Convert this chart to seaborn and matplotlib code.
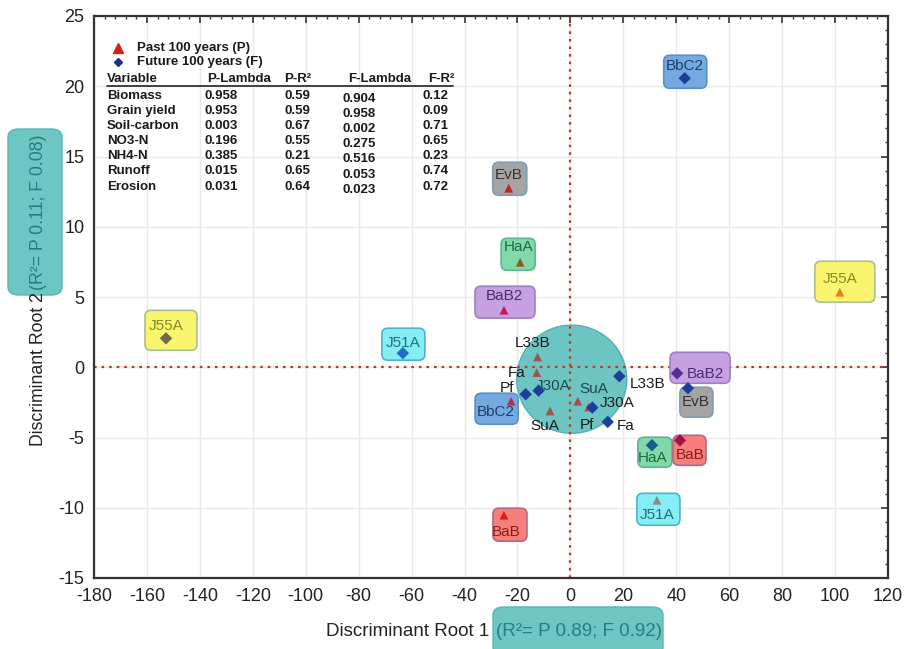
import matplotlib
matplotlib.use("Agg")
import matplotlib.pyplot as plt
import matplotlib.transforms as mtransforms
from matplotlib.patches import FancyBboxPatch, Ellipse
from matplotlib.lines import Line2D
from matplotlib.ticker import MultipleLocator, AutoMinorLocator
import seaborn as sns
import pandas as pd

# ---- discriminant scores: past 100 years (P) ----
sites_p = ["EvB", "HaA", "BaB2", "J55A", "J51A", "BaB", "BbC2", "L33B", "Fa", "SuA", "Pf", "J30A"]
root1_p = [-23.3, -19.0, -25.1, 101.8, 32.7, -25.1, -22.4, -12.4, -12.7, -7.7, 2.8, 6.9]
root2_p = [12.74, 7.47, 4.06, 5.34, -9.47, -10.53, -2.42, 0.73, -0.38, -3.11, -2.42, -2.83]

# ---- discriminant scores: future 100 years (F) ----
sites_f = ["BbC2", "J55A", "J51A", "BaB2", "EvB", "HaA", "BaB", "L33B", "Fa", "Pf", "J30A", "SuA"]
root1_f = [43.2, -152.8, -63.3, 40.3, 44.4, 30.8, 41.4, 18.5, 14.1, -16.9, -12.0, 8.3]
root2_f = [20.57, 2.06, 1.0, -0.43, -1.49, -5.55, -5.2, -0.64, -3.89, -1.92, -1.66, -2.87]

# ---- Wilks' lambda / R2 table ----
variables = ["Biomass", "Grain yield", "Soil-carbon", "NO3-N", "NH4-N", "Runoff", "Erosion"]
p_lambda = ["0.958", "0.953", "0.003", "0.196", "0.385", "0.015", "0.031"]
p_r2 = ["0.59", "0.59", "0.67", "0.55", "0.21", "0.65", "0.64"]
f_lambda = ["0.904", "0.958", "0.002", "0.275", "0.516", "0.053", "0.023"]
f_r2 = ["0.12", "0.09", "0.71", "0.65", "0.23", "0.74", "0.72"]
table_header = ["Variable", "P-Lambda", "P-R\u00b2", "F-Lambda", "F-R\u00b2"]

legend_labels = ["Past 100 years (P)", "Future 100 years (F)"]
xlabel_main, xlabel_r2 = "Discriminant Root 1", "(R\u00b2= P 0.89; F 0.92)"
ylabel_main, ylabel_r2 = "Discriminant Root 2", "(R\u00b2= P 0.11; F 0.08)"

# ---- styling ----
box_fill = {"EvB": "#a4a4a4", "HaA": "#7fd9a9", "BaB2": "#c6a0e0", "J55A": "#f9f56e",
            "J51A": "#84eef4", "BaB": "#f67f7c", "BbC2": "#74aadf"}
box_edge = {"EvB": "#7b9fb0", "HaA": "#5fb39a", "BaB2": "#9a82c6", "J55A": "#a9c090",
            "J51A": "#4fb2cc", "BaB": "#b06a84", "BbC2": "#5a8fc4"}
label_col = {"EvB": "#333333", "HaA": "#1e6b45", "BaB2": "#4e2b74", "J55A": "#8a8a22",
             "J51A": "#1f6f80", "BaB": "#8c1c1c", "BbC2": "#1d3f6e"}

mk_col_p = {"EvB": "#cc1f1f", "HaA": "#8b5a2b", "BaB2": "#c2185b", "J55A": "#ef7d1a",
            "J51A": "#8a8a8a", "BaB": "#e01b1b", "BbC2": "#b5304f"}
mk_col_f = {"BbC2": "#1c3f9c", "J55A": "#6e6a48", "J51A": "#1e6ec8", "BaB2": "#5a2d91",
            "EvB": "#1c3f9c", "HaA": "#1f5a8a", "BaB": "#a3124a"}

# box geometry in pixels relative to the marker: (left, bottom, width, height), label offset
box_p = {"EvB": ((-16, -7, 34, 33), (0, 13)), "HaA": ((-19, -8, 34, 32), (-2, 15)),
         "BaB2": ((-29, -8, 60, 32), (0, 14)), "J55A": ((-25, -10, 60, 41), (0, 13)),
         "J51A": ((-20, -25, 43, 32), (0, -15)), "BaB": ((-11, -26, 34, 33), (2, -17)),
         "BbC2": ((-36, -23, 43, 31), (-15, -11))}
box_f = {"BbC2": ((-21, -10, 43, 33), (0, 12)), "J55A": ((-21, -12, 52, 40), (0, 12)),
         "J51A": ((-21, -7, 43, 32), (0, 10)), "BaB2": ((-7, -10, 60, 31), (28, -1)),
         "EvB": ((-8, -29, 33, 30), (8, -14)), "HaA": ((-14, -22, 34, 30), (1, -13)),
         "BaB": ((-7, -25, 33, 30), (10, -15))}
free_lab_p = {"L33B": (-5, 14), "Fa": (-20, 0), "SuA": (-5, -15), "Pf": (9, -24), "J30A": (28, 4)}
free_lab_f = {"L33B": (28, -8), "Fa": (18, -4), "Pf": (-19, 6), "J30A": (14, 5), "SuA": (1, 19)}
free_lab_col_f = {"J30A": "#1d4a4c", "SuA": "#1d4a4c"}

sns.set_style("white")
plt.rcParams["font.family"] = ["Liberation Sans", "DejaVu Sans"]
plt.rcParams["axes.unicode_minus"] = False

W, H = 912, 649
fig = plt.figure(figsize=(W / 100, H / 100), dpi=100)
ax = fig.add_axes([94 / W, 1 - 578 / H, 794 / W, 562 / H])

df = pd.concat([
    pd.DataFrame({"root1": root1_p, "root2": root2_p, "site": sites_p, "period": "P"}),
    pd.DataFrame({"root1": root1_f, "root2": root2_f, "site": sites_f, "period": "F"}),
], ignore_index=True)
df["key"] = df["period"] + "-" + df["site"]
palette = {}
for s in sites_p:
    palette["P-" + s] = mk_col_p.get(s, "#a0524d")
for s in sites_f:
    palette["F-" + s] = mk_col_f.get(s, "#1c3f9c")

ax.set_xlim(-180, 120)
ax.set_ylim(-15, 25)

# cluster of central sites
ax.add_patch(Ellipse((0.5, -0.85), 41.6, 7.7, facecolor="#6cc4c3", edgecolor="#58aeb3",
                     lw=1, zorder=1))
ax.axhline(0, color="#c0392b", ls=(0, (1.2, 2.2)), lw=1.6, zorder=1.5)
ax.axvline(0, color="#c0392b", ls=(0, (1.2, 2.2)), lw=1.6, zorder=1.5)

def px_trans(x, y):
    return fig.dpi_scale_trans + mtransforms.ScaledTranslation(x, y, ax.transData)

for _, r in df.iterrows():
    geo = (box_p if r.period == "P" else box_f).get(r.site)
    if geo is not None:
        (l, b, w, h), (dx, dy) = geo
        ax.add_patch(FancyBboxPatch((l / 100, b / 100), w / 100, h / 100,
                                    boxstyle="round,pad=0,rounding_size=0.06",
                                    transform=px_trans(r.root1, r.root2),
                                    facecolor=box_fill[r.site], edgecolor=box_edge[r.site],
                                    lw=1.2, zorder=2))
        col = label_col[r.site]
    else:
        dx, dy = (free_lab_p if r.period == "P" else free_lab_f)[r.site]
        col = "#1a1a1a" if r.period == "P" else free_lab_col_f.get(r.site, "#1a1a1a")
    ax.annotate(r.site, (r.root1, r.root2), xytext=(dx * 0.72, dy * 0.72),
                textcoords="offset points", ha="center", va="center",
                fontsize=11, color=col, zorder=5)

sns.scatterplot(data=df, x="root1", y="root2", hue="key", palette=palette,
                style="period", markers={"P": "^", "F": "D"}, s=40,
                edgecolor="none", legend=False, zorder=4, ax=ax)

# axes cosmetics
ax.xaxis.set_major_locator(MultipleLocator(20))
ax.yaxis.set_major_locator(MultipleLocator(5))
ax.xaxis.set_minor_locator(AutoMinorLocator(5))
ax.yaxis.set_minor_locator(AutoMinorLocator(5))
ax.grid(True, which="major", color="#e9e9e9", lw=1, zorder=0)
ax.set_axisbelow(True)
ax.tick_params(which="both", direction="in", top=True, right=True, color="#333333")
ax.tick_params(which="major", length=5, width=1.2, labelsize=13, pad=7, labelcolor="#222222")
ax.tick_params(which="minor", length=2.5, width=1)
for sp in ax.spines.values():
    sp.set_color("#333333")
    sp.set_linewidth(1.6)
ax.set_xlabel("")
ax.set_ylabel("")

# axis titles with highlighted R2 part
fig.patches.append(FancyBboxPatch((493 / W, 1 - 655 / H), 170 / W, 48 / H,
                                  boxstyle="round,pad=0,rounding_size=0.012",
                                  transform=fig.transFigure, facecolor="#6ec6c4",
                                  edgecolor="#5cb3b5", lw=1))
fig.text(489 / W, 1 - 632 / H, xlabel_main, ha="right", va="center", fontsize=13.5,
         color="#222222")
fig.text(496 / W, 1 - 632 / H, xlabel_r2, ha="left", va="center", fontsize=13.5,
         color="#2b7b80")
fig.patches.append(FancyBboxPatch((8 / W, 1 - 295 / H), 54 / W, 166 / H,
                                  boxstyle="round,pad=0,rounding_size=0.012",
                                  transform=fig.transFigure, facecolor="#6ec6c4",
                                  edgecolor="#5cb3b5", lw=1))
fig.text(39 / W, 1 - 292 / H, ylabel_main, ha="center", va="top", rotation=90,
         fontsize=12.7, color="#222222")
fig.text(39 / W, 1 - 290 / H, ylabel_r2, ha="center", va="bottom", rotation=90,
         fontsize=12.7, color="#2b7b80")

# legend and statistics table
fig.add_artist(Line2D([118 / W], [1 - 48 / H], marker="^", color="#d91e1e", ms=7,
                      ls="none", transform=fig.transFigure))
fig.add_artist(Line2D([118 / W], [1 - 62 / H], marker="D", color="#1c2f8c", ms=4.5,
                      ls="none", transform=fig.transFigure))
for i, t in enumerate(legend_labels):
    fig.text(137 / W, 1 - (48 + 14 * i) / H, t, ha="left", va="center", fontsize=9.5,
             fontweight="bold", color="#1a1a1a")

hdr_x = [107, 207, 284, 348, 428]
col_x = [107, 205, 285, 343, 423]
col_dy = [0, 0, 0, 3, 0]
for hx, t in zip(hdr_x, table_header):
    fig.text(hx / W, 1 - 79 / H, t, ha="left", va="center", fontsize=9.5,
             fontweight="bold", color="#1a1a1a")
fig.add_artist(Line2D([107 / W, 453 / W], [1 - 86 / H, 1 - 86 / H], color="#333333",
                      lw=1.3, transform=fig.transFigure))
for i, row in enumerate(zip(variables, p_lambda, p_r2, f_lambda, f_r2)):
    y = 96 + 15.1 * i
    for cx, dy, t in zip(col_x, col_dy, row):
        fig.text(cx / W, 1 - (y + dy) / H, t, ha="left", va="center", fontsize=9.5,
                 fontweight="bold", color="#1a1a1a")

fig.savefig("out.png", dpi=100)
